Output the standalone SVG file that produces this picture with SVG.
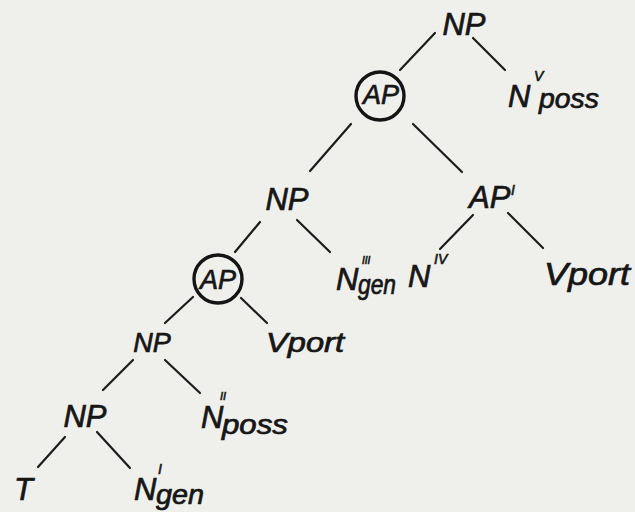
<svg xmlns="http://www.w3.org/2000/svg" width="635" height="512" viewBox="0 0 635 512">
  <style>
    .lbl { font-family: "Liberation Sans", Arial, sans-serif; font-style: italic; fill: #161616; stroke: #161616; stroke-width: 0.7; }
    .big { font-size: 31px; }
    .mid { font-size: 27px; }
    .sup { font-size: 14px; stroke-width: 0.6; }
    .edge { stroke: #1c1c1c; stroke-width: 2.2; stroke-linecap: round; fill: none; }
    .ring { stroke: #141414; stroke-width: 3.4; fill: none; }
  </style>
  <rect width="635" height="512" fill="#efefeb"/>

  <g id="connectors">
    <line class="edge" x1="435" y1="33" x2="400" y2="70"/>
    <line class="edge" x1="473" y1="38" x2="505" y2="70"/>
    <line class="edge" x1="351" y1="124" x2="310" y2="171"/>
    <line class="edge" x1="413" y1="124" x2="462" y2="172"/>
    <line class="edge" x1="260" y1="222" x2="235" y2="252"/>
    <line class="edge" x1="297" y1="220" x2="330" y2="252"/>
    <line class="edge" x1="473" y1="215" x2="440" y2="249"/>
    <line class="edge" x1="508" y1="213" x2="543" y2="248"/>
    <line class="edge" x1="193" y1="297" x2="165" y2="323"/>
    <line class="edge" x1="241" y1="298" x2="267" y2="323"/>
    <line class="edge" x1="133" y1="360" x2="103" y2="390"/>
    <line class="edge" x1="165" y1="360" x2="200" y2="393"/>
    <line class="edge" x1="65" y1="437" x2="38" y2="467"/>
    <line class="edge" x1="97" y1="432" x2="130" y2="468"/>
  </g>

  <g id="np-root">
    <text class="lbl big" x="464" y="35" text-anchor="middle">NP</text>
  </g>

  <g id="ap-1">
    <circle class="ring" cx="380" cy="96" r="24"/>
    <text class="lbl mid" x="381" y="104" text-anchor="middle">AP</text>
  </g>

  <g id="n5-poss">
    <text class="lbl big" x="508" y="107">N</text>
    <text class="lbl sup" x="534" y="81">V</text>
    <text class="lbl mid" x="539" y="108" textLength="60" lengthAdjust="spacingAndGlyphs">poss</text>
  </g>

  <g id="np-2">
    <text class="lbl big" x="287" y="210" text-anchor="middle">NP</text>
  </g>

  <g id="ap-prime">
    <text class="lbl big" x="469" y="208">AP</text>
    <text class="lbl sup" x="511" y="195">I</text>
  </g>

  <g id="ap-2">
    <circle class="ring" cx="218" cy="279" r="24"/>
    <text class="lbl mid" x="218" y="289" text-anchor="middle">AP</text>
  </g>

  <g id="n3-gen">
    <text class="lbl big" x="336" y="290">N</text>
    <text class="lbl sup" x="362" y="264" style="font-size:10px">III</text>
    <text class="lbl mid" x="358" y="294" textLength="38" lengthAdjust="spacingAndGlyphs">gen</text>
  </g>

  <g id="n4">
    <text class="lbl big" x="408" y="287">N</text>
    <text class="lbl sup" x="434" y="264">IV</text>
  </g>

  <g id="vport-1">
    <text class="lbl big" x="544" y="285" textLength="86" lengthAdjust="spacingAndGlyphs">Vport</text>
  </g>

  <g id="np-3">
    <text class="lbl mid" x="152" y="352" text-anchor="middle">NP</text>
  </g>

  <g id="vport-2">
    <text class="lbl mid" x="266" y="352" textLength="78" lengthAdjust="spacingAndGlyphs">Vport</text>
  </g>

  <g id="np-4">
    <text class="lbl big" x="85" y="427" text-anchor="middle">NP</text>
  </g>

  <g id="n2-poss">
    <text class="lbl big" x="201" y="428">N</text>
    <text class="lbl sup" x="220" y="400" style="font-size:11px">II</text>
    <text class="lbl mid" x="222" y="434" textLength="66" lengthAdjust="spacingAndGlyphs">poss</text>
  </g>

  <g id="t">
    <text class="lbl big" x="14" y="500">T</text>
  </g>

  <g id="n1-gen">
    <text class="lbl big" x="134" y="500">N</text>
    <text class="lbl sup" x="158" y="474">I</text>
    <text class="lbl mid" x="156" y="504" textLength="48" lengthAdjust="spacingAndGlyphs">gen</text>
  </g>
</svg>
